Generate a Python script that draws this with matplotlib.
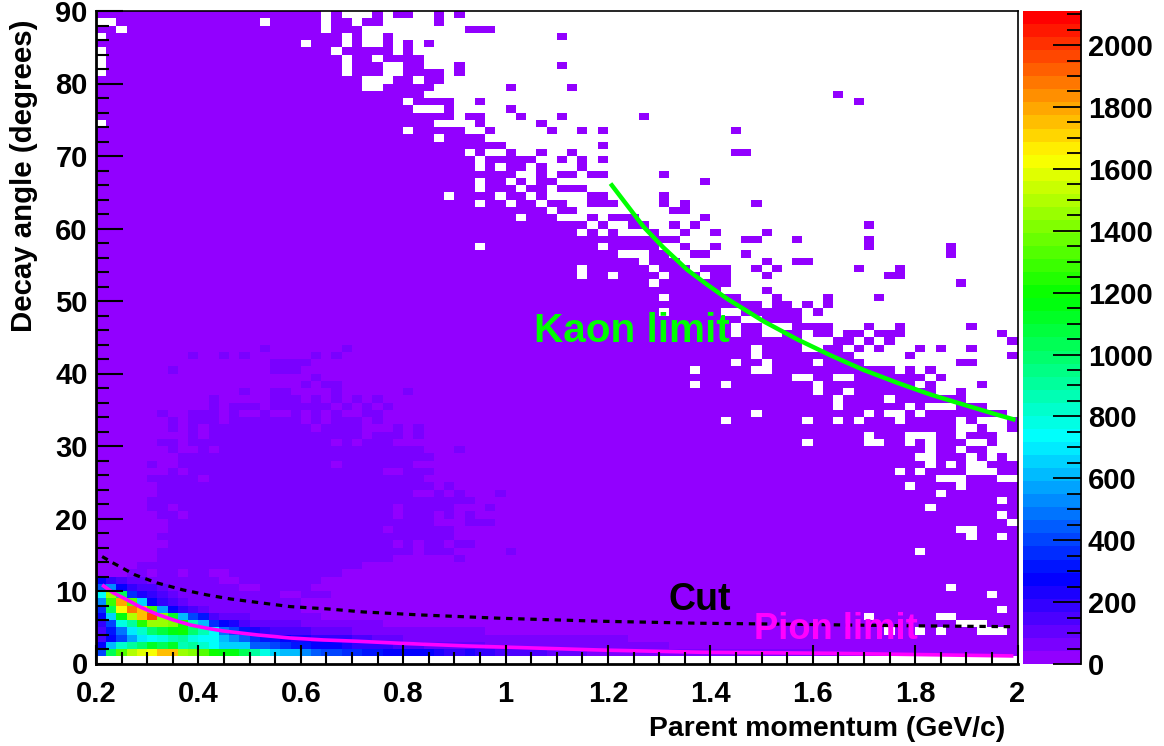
import numpy as np
import matplotlib
matplotlib.use('Agg')
import matplotlib.pyplot as plt
from matplotlib.colors import ListedColormap, BoundaryNorm, hsv_to_rgb
from matplotlib.ticker import MultipleLocator

# ---- DATA ----
n_bins = 90
x_range = (0.2, 2.0)
z_max = 2110
base_count = 20
violet_count = 60

# occupied bin runs (first, last+1) per row, row 0 is the top of the plot
filled_runs = [
    [(0, 22), (23, 24), (27, 28), (29, 31), (33, 34), (35, 36)],
    [(2, 16), (17, 22), (23, 25), (26, 28), (33, 34)],
    [(0, 2), (3, 22), (23, 26), (36, 39)],
    [(1, 24), (25, 26), (28, 29), (45, 46)],
    [(0, 20), (21, 24), (25, 26), (28, 29), (30, 31), (32, 33)],
    [(1, 23), (24, 29), (30, 31)],
    [(1, 24), (25, 27), (28, 32)],
    [(1, 24), (25, 28), (30, 32), (35, 36), (45, 46)],
    [(1, 24), (25, 28), (30, 34), (35, 36)],
    [(0, 26), (29, 31), (32, 34)],
    [(0, 26), (28, 33), (40, 41), (46, 47)],
    [(0, 32), (72, 73)],
    [(0, 30), (31, 35), (37, 38), (74, 75)],
    [(0, 31), (34, 35), (40, 41)],
    [(0, 35), (36, 38), (41, 42), (45, 46), (53, 54)],
    [(1, 33), (37, 38), (43, 44)],
    [(0, 30), (31, 36), (38, 39), (44, 45), (47, 48), (49, 50), (62, 63)],
    [(0, 33), (34, 38)],
    [(0, 40), (49, 50)],
    [(0, 36), (37, 38), (40, 41), (43, 44), (46, 47), (62, 64)],
    [(0, 37), (38, 43), (45, 46), (47, 48), (49, 50)],
    [(0, 37), (38, 39), (40, 42), (43, 44), (47, 48)],
    [(0, 41), (43, 44), (45, 47), (48, 50), (55, 56)],
    [(0, 37), (38, 40), (41, 42), (43, 45), (59, 60)],
    [(0, 37), (38, 41), (42, 44), (45, 48)],
    [(0, 34), (35, 39), (40, 42), (43, 44), (48, 50), (55, 56)],
    [(0, 37), (38, 40), (41, 43), (44, 46), (48, 51), (55, 56), (57, 58), (64, 65)],
    [(0, 44), (45, 47), (56, 58)],
    [(0, 41), (42, 45), (48, 49), (50, 53), (59, 60)],
    [(0, 48), (49, 50), (52, 54), (56, 57), (58, 59), (75, 76)],
    [(0, 47), (48, 49), (50, 51), (54, 55), (57, 58), (60, 61), (65, 66)],
    [(0, 57), (63, 65), (68, 69), (75, 76)],
    [(0, 37), (38, 49), (50, 55), (57, 58), (60, 61), (75, 76), (83, 84)],
    [(0, 51), (54, 56), (58, 60), (63, 64), (83, 84)],
    [(0, 53), (54, 57), (65, 66), (68, 70)],
    [(0, 47), (48, 54), (55, 58), (59, 62), (64, 65), (66, 67), (74, 75), (78, 79)],
    [(0, 47), (48, 50), (51, 55), (56, 59), (60, 62), (65, 66), (77, 79)],
    [(0, 54), (55, 62), (84, 85)],
    [(0, 61), (65, 66)],
    [(0, 55), (56, 63), (66, 67), (71, 72), (76, 77)],
    [(0, 65), (66, 68), (69, 70), (71, 72)],
    [(0, 55), (56, 61), (63, 69), (70, 71)],
    [(0, 63), (65, 69)],
    [(0, 62), (63, 65), (68, 72), (75, 76), (78, 79), (85, 86)],
    [(0, 62), (63, 65), (67, 69), (70, 72), (73, 75), (76, 79), (88, 89)],
    [(0, 69), (72, 74), (75, 76), (77, 78), (89, 90)],
    [(0, 64), (65, 69), (71, 73), (74, 75), (76, 77), (80, 81), (82, 83), (85, 86)],
    [(0, 64), (65, 74), (79, 80), (89, 90)],
    [(0, 62), (63, 65), (66, 70), (71, 75), (84, 86)],
    [(0, 58), (59, 64), (66, 78), (79, 80), (81, 82)],
    [(0, 68), (70, 72), (74, 81), (82, 83)],
    [(0, 58), (59, 61), (62, 70), (71, 80), (81, 82), (86, 87)],
    [(0, 70), (71, 73), (74, 82), (84, 85)],
    [(0, 72), (73, 77), (78, 85)],
    [(0, 72), (73, 79), (80, 81), (84, 87)],
    [(0, 64), (65, 75), (76, 77), (79, 80), (81, 89)],
    [(0, 61), (62, 69), (70, 72), (73, 74), (75, 78), (79, 84), (85, 86), (89, 90)],
    [(0, 84), (86, 87), (89, 90)],
    [(0, 75), (76, 79), (82, 84), (85, 88)],
    [(0, 69), (70, 75), (77, 79), (80, 81), (82, 85), (87, 88)],
    [(0, 81), (82, 84), (85, 87)],
    [(0, 80), (82, 85), (86, 87), (88, 89)],
    [(0, 81), (82, 83), (84, 85), (87, 90)],
    [(0, 78), (79, 80), (81, 85), (88, 90)],
    [(0, 82), (85, 88)],
    [(0, 79), (80, 84), (85, 90)],
    [(0, 82), (83, 90)],
    [(0, 88), (89, 90)],
    [(0, 81), (82, 90)],
    [(0, 88), (89, 90)],
    [(0, 89)],
    [(0, 84), (86, 90)],
    [(0, 85), (86, 88), (89, 90)],
    [(0, 90)],
    [(0, 80), (81, 90)],
    [(0, 90)],
    [(0, 90)],
    [(0, 90)],
    [(0, 90)],
    [(0, 83), (84, 90)],
    [(0, 87), (88, 90)],
    [(0, 90)],
    [(0, 88), (89, 90)],
    [(0, 75), (76, 82), (84, 90)],
    [(0, 84), (87, 90)],
    [(0, 77), (78, 80), (81, 82), (83, 86), (89, 90)],
    [(0, 90)],
    [(0, 90)],
    [(0, 90)],
    [],
]

# slightly higher counts around the middle of the plot
violet_runs = {
    46: [(16, 17), (24, 25)],
    47: [(9, 10), (12, 13), (14, 15), (21, 22), (23, 24)],
    48: [(17, 21)],
    49: [(7, 8), (17, 20)],
    50: [(21, 22)],
    51: [(20, 21), (22, 24)],
    52: [(14, 15), (17, 19), (23, 24), (30, 31)],
    53: [(11, 12), (17, 20), (21, 22), (23, 24), (25, 26), (27, 28)],
    54: [(11, 12), (13, 16), (17, 23), (24, 25), (26, 27), (28, 29)],
    55: [(6, 7), (9, 12), (13, 14), (16, 17), (19, 20), (21, 22), (23, 24), (26, 28)],
    56: [(7, 8), (9, 12), (13, 20), (21, 22), (23, 26), (27, 28)],
    57: [(7, 8), (9, 10), (11, 21), (22, 26), (29, 30), (31, 32)],
    58: [(9, 10), (11, 26), (27, 30), (31, 32)],
    59: [(6, 8), (9, 23), (24, 25), (26, 29)],
    60: [(7, 8), (10, 11), (12, 32), (35, 36)],
    61: [(8, 33)],
    62: [(5, 6), (8, 23), (24, 31)],
    63: [(7, 8), (9, 28), (30, 33)],
    64: [(5, 10), (11, 32)],
    65: [(6, 33), (34, 35)],
    66: [(6, 31), (33, 34), (35, 36), (39, 40)],
    67: [(5, 37)],
    68: [(5, 7), (8, 29), (30, 35), (38, 39)],
    69: [(6, 8), (9, 29), (30, 33), (34, 35), (36, 37)],
    70: [(7, 33), (36, 39)],
    71: [(7, 28), (29, 35)],
    72: [(6, 35)],
    73: [(7, 29), (30, 31), (32, 34), (35, 37)],
    74: [(6, 31), (32, 35), (40, 41)],
    75: [(6, 29), (35, 36)],
    76: [(4, 26)],
    77: [(3, 5), (6, 8), (9, 11), (13, 24)],
    78: [(6, 12), (14, 22)],
    79: [(8, 14), (16, 21)],
    80: [(9, 18), (20, 23)],
    81: [(10, 20)],
    82: [(12, 20)],
    83: [(17, 22)],
    84: [(21, 28)],
    85: [(26, 38)],
    86: [(31, 52)],
    87: [(39, 56)],
    88: [(44, 70)],
}

# counts of the hot corner, row -> values from the first bin onward
hot_rows = {
    78: [270, 190, 150, 100, 100, 60],
    79: [440, 530, 270, 190, 150, 150, 100, 60],
    80: [740, 1460, 1030, 360, 230, 190, 150, 100, 60],
    81: [530, 1290, 1790, 1330, 650, 270, 190, 150, 100, 60],
    82: [360, 1030, 1620, 1880, 1750, 1290, 570, 270, 190, 150, 100, 60],
    83: [270, 650, 1160, 1500, 1750, 1960, 1410, 1120, 610, 400, 320, 150, 100, 100, 100, 60, 60],
    84: [190, 400, 780, 910, 1250, 1460, 1460, 1410, 1200, 860, 610, 360, 270, 230, 150, 100, 100,
         100, 100, 100, 60],
    85: [150, 320, 490, 700, 820, 990, 1080, 1160, 1200, 990, 860, 740, 490, 400, 320, 230, 190,
         150, 150, 150, 150, 100, 100, 100, 100, 60],
    86: [150, 270, 400, 570, 700, 740, 780, 860, 910, 780, 740, 740, 610, 530, 440, 360, 320, 320,
         270, 230, 230, 190, 190, 190, 190, 150, 150, 100, 100, 100, 60],
    87: [270, 610, 820, 910, 990, 1120, 1030, 1120, 860, 910, 820, 740, 650, 650, 650, 440, 440,
         400, 360, 320, 320, 270, 270, 270, 230, 190, 190, 190, 190, 150, 150, 150, 100, 100, 100,
         100, 100, 100, 60],
    88: [400, 1030, 1330, 1500, 1580, 1620, 1750, 1750, 1460, 1410, 1330, 1200, 1160, 1160, 1030,
         910, 780, 650, 610, 610, 530, 440, 400, 400, 360, 360, 320, 320, 270, 270, 270, 270, 270,
         230, 190, 190, 230, 190, 190, 150, 150, 150, 150, 150, 100, 100, 100, 100, 60],
}

# curves
kaon_x = [1.205, 1.244, 1.270, 1.308, 1.355, 1.395, 1.433, 1.504, 1.570, 1.635, 1.699, 1.766, 1.830,
          1.895, 1.961, 1.996]
kaon_y = [66.2, 62.6, 60.2, 57.4, 54.3, 52.2, 50.3, 47.2, 44.7, 42.5, 40.5, 38.7, 37.1,
          35.7, 34.3, 33.6]
pion_x = [0.212, 0.233, 0.261, 0.286, 0.319, 0.351, 0.384, 0.417, 0.448, 0.515, 0.579, 0.644, 0.710,
          0.794, 0.925, 1.054, 1.185, 1.381, 1.635, 1.992]
pion_y = [10.84, 9.78, 8.77, 7.81, 6.80, 6.01, 5.32, 4.86, 4.49, 3.94, 3.52, 3.25, 3.07,
          2.79, 2.42, 2.14, 1.86, 1.55, 1.41, 1.04]
cut_x = [0.212, 0.233, 0.276, 0.319, 0.370, 0.417, 0.462, 0.507, 0.579, 0.652, 0.722, 0.833, 0.990,
         1.185, 1.381, 1.504, 1.766, 1.986]
cut_y = [14.75, 13.88, 12.23, 11.12, 10.15, 9.46, 8.91, 8.50, 7.85, 7.53, 7.11, 6.70, 6.24,
         5.83, 5.55, 5.46, 5.22, 5.08]

x_ticks = [0.2, 0.4, 0.6, 0.8, 1.0, 1.2, 1.4, 1.6, 1.8, 2.0]
x_tick_labels = ['0.2', '0.4', '0.6', '0.8', '1', '1.2', '1.4', '1.6', '1.8', '2']
y_ticks = [0, 10, 20, 30, 40, 50, 60, 70, 80, 90]
z_ticks = [0, 200, 400, 600, 800, 1000, 1200, 1400, 1600, 1800, 2000]

# ---- BUILD GRID ----
counts = np.zeros((n_bins, n_bins))
for row, runs in enumerate(filled_runs):
    for first, last in runs:
        counts[row, first:last] = base_count
for row, runs in violet_runs.items():
    for first, last in runs:
        counts[row, first:last] = violet_count
for row, values in hot_rows.items():
    counts[row, :len(values)] = values
counts = np.ma.masked_equal(counts, 0)

# ROOT rainbow palette, 50 bands
hues = [(280 - 5.6 * (i + 1)) / 360 for i in range(50)]
palette = ListedColormap([hsv_to_rgb((h, 1, 1)) for h in hues])
palette.set_bad('white')
band_edges = np.linspace(0, z_max, 51)
norm = BoundaryNorm(band_edges, 50)

# ---- PLOT ----
W, H = 1164, 746
plt.rcParams['font.family'] = ['Liberation Sans', 'DejaVu Sans']
plt.rcParams['font.weight'] = 'bold'
fig = plt.figure(figsize=(W / 100, H / 100), dpi=100)
ax = fig.add_axes([96 / W, (H - 663.5) / H, 921.5 / W, 652.5 / H])

x_edges = np.linspace(x_range[0], x_range[1], n_bins + 1)
y_edges = np.arange(n_bins, -1, -1)
ax.pcolormesh(x_edges, y_edges, counts, cmap=palette, norm=norm, rasterized=True)

ax.plot(kaon_x, kaon_y, color='#00ff00', lw=3.2, solid_capstyle='butt')
ax.plot(pion_x, pion_y, color='#ff00ff', lw=2.6, solid_capstyle='butt')
ax.plot(cut_x, cut_y, color='black', lw=2.3, linestyle=(0, (2.0, 1.8)), dash_capstyle='butt')

ax.text(1.056, 45.9, 'Kaon limit', color='#00ff00', fontsize=29.2, va='center', ha='left')
ax.text(1.318, 8.7, 'Cut', color='black', fontsize=27, va='center', ha='left')
ax.text(1.486, 4.65, 'Pion limit', color='#ff00ff', fontsize=26.2, va='center', ha='left')

ax.set_xlim(*x_range)
ax.set_ylim(0, 90)
ax.set_xticks(x_ticks)
ax.set_xticklabels(x_tick_labels)
ax.set_yticks(y_ticks)
ax.xaxis.set_minor_locator(MultipleLocator(0.05))
ax.yaxis.set_minor_locator(MultipleLocator(2))
ax.tick_params(axis='x', which='major', direction='in', length=13.7, width=1.5, labelsize=21, pad=12)
ax.tick_params(axis='x', which='minor', direction='in', length=8.4, width=1.5)
ax.tick_params(axis='y', which='major', direction='in', length=19.4, width=1.5, labelsize=21, pad=6)
ax.tick_params(axis='y', which='minor', direction='in', length=9.7, width=1.5)
ax.set_axisbelow(False)
for side, width in zip(['left', 'bottom', 'top', 'right'], [2.0, 2.0, 1.2, 1.2]):
    ax.spines[side].set_linewidth(width)

fig.text(1005 / W, 1 - 729 / H, 'Parent momentum (GeV/c)', fontsize=20.4, ha='right', va='center')
fig.text(24 / W, 1 - 20 / H, 'Decay angle (degrees)', fontsize=21.2, rotation=90, ha='center', va='top')

# colour bar
cax = fig.add_axes([1023 / W, (H - 664) / H, 58 / W, 653 / H])
cax.pcolormesh([0, 1], band_edges, (band_edges[:-1] + 1)[:, None], cmap=palette, norm=norm)
cax.set_xticks([])
cax.set_ylim(0, z_max)
cax.yaxis.tick_right()
cax.set_yticks(z_ticks)
cax.yaxis.set_minor_locator(MultipleLocator(50))
cax.tick_params(axis='y', which='major', direction='in', length=20, width=1.3, labelsize=21, pad=5)
cax.tick_params(axis='y', which='minor', direction='in', length=10, width=1.3)
for side in ['left', 'top', 'bottom']:
    cax.spines[side].set_visible(False)
cax.spines['right'].set_linewidth(1.3)

plt.savefig('out.png', dpi=100)
plt.close()
